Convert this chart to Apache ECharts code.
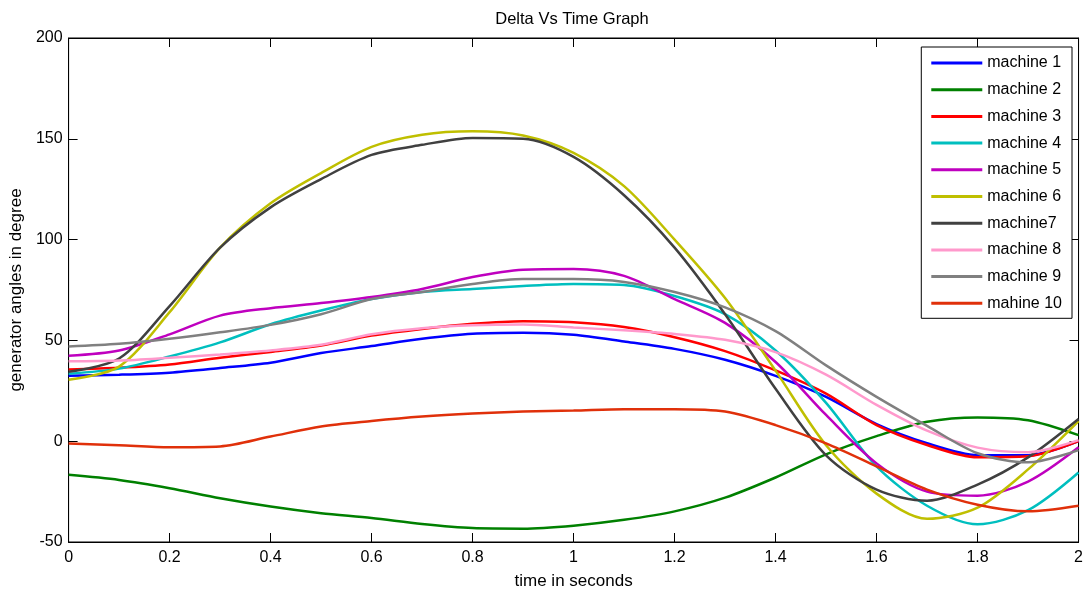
<!DOCTYPE html>
<html>
<head>
<meta charset="utf-8">
<script src="https://cdn.jsdelivr.net/npm/echarts@6/dist/echarts.min.js"></script>
<style>
html,body{margin:0;padding:0;background:#fff;}
#chart{width:1086px;height:595px;}
</style>
</head>
<body>
<div id="chart"></div>
<script>
var time = [0,0.1,0.2,0.3,0.4,0.5,0.6,0.7,0.8,0.9,1.0,1.1,1.2,1.3,1.4,1.5,1.6,1.7,1.8,1.9,2.0];
var names = ['machine 1','machine 2','machine 3','machine 4','machine 5','machine 6','machine7','machine 8','machine 9','mahine 10'];
var m1 = [32.5,33,34,36.3,38.9,43.7,47.2,50.8,53.3,53.8,52.8,49.5,45.8,40.4,32.4,22,8.5,-1,-6.9,-7,0];
var m2 = [-16.7,-19.2,-23.3,-28.3,-32.4,-35.7,-38.1,-41.1,-43.1,-43.4,-41.9,-39,-34.8,-28,-18,-6.5,2.5,9.6,11.8,10.4,3];
var m3 = [35.6,36.4,38,41.4,44.3,47.5,52.4,55.7,58.2,59.5,59,56.6,51.6,44.7,35.1,23.6,8,-1.9,-8,-7.5,0];
var m4 = [33.5,36,42,49,58,64.8,70.5,74,75.5,77,78,77.5,72,63,45,19,-12.5,-32,-41.2,-34.2,-15.5];
var m5 = [42.4,45,53,62.3,66,68.5,71.5,75.5,81.4,85,85.4,82,70.5,58.7,39.3,13,-11,-25,-27,-20,-3];
var m6 = [30.5,37,64,96,118,133,146,152,153.7,151.6,143,126.5,100,71,35,-2,-26,-38.5,-33,-14,10];
var m7 = [34.5,41,67,96,116,130,142,147,150.4,150,141,122,96,63,26,-7,-24,-29.5,-21.5,-8,11];
var m8 = [39.6,40,41.4,43,45,47.8,53,56,57.5,57.9,56.4,55,53.2,50.3,44.2,33,18,5.2,-3.2,-5.5,0.5];
var m9 = [47,48.3,50.8,54,57.7,63,70.5,74,78,80.4,80.4,79,74,66.4,54.6,37.6,22,7.6,-6,-10.5,-4.4];
var m10 = [-1.1,-2,-3,-2.6,2.3,7.3,10,12.2,13.7,14.7,15.2,15.9,15.9,14.7,8,-1.1,-12.5,-24,-31.5,-34.8,-32];
var allSeries = [m1,m2,m3,m4,m5,m6,m7,m8,m9,m10];
var colors = ['#0000ff','#008000','#ff0000','#00bfbf','#bf00bf','#bfbf00','#404040','#ff99cc','#808080','#e0300a'];

var font = 'Liberation Sans, Arial, sans-serif';
var series = allSeries.map(function(arr, k){
  return {
    name: names[k], type: 'line', showSymbol: false, smooth: 0.3,
    data: arr.map(function(v,i){ return [time[i], v]; }),
    lineStyle: {width: 2.5, color: colors[k]}, itemStyle: {color: colors[k]},
    emphasis: {disabled: true}, animation: false
  };
});
function xAx(pos, labels){
  return {type:'value', position:pos, min:0, max:2, interval:0.2, gridIndex:0,
    axisLine:{show:true, onZero:false, lineStyle:{color:'#000', width:1}},
    axisTick:{show:true, inside:true, length:9, lineStyle:{color:'#000'}},
    axisLabel:{show:labels, color:'#000', fontSize:16, fontFamily:font, margin:8},
    splitLine:{show:false},
    name: labels ? 'time in seconds' : '', nameLocation:'middle', nameGap:31,
    nameTextStyle:{color:'#000', fontSize:17, fontFamily:font}};
}
function yAx(pos, labels){
  return {type:'value', position:pos, min:-50, max:200, interval:50, gridIndex:0,
    axisLine:{show:true, onZero:false, lineStyle:{color:'#000', width:1}},
    axisTick:{show:true, inside:true, length:9, lineStyle:{color:'#000'}},
    axisLabel:{show:labels, color:'#000', fontSize:16, fontFamily:font, margin:6},
    splitLine:{show:false},
    name: labels ? 'generator angles in degree' : '', nameLocation:'middle', nameGap:35,
    nameTextStyle:{color:'#000', fontSize:17, fontFamily:font}};
}
var chart = echarts.init(document.getElementById('chart'), null, {renderer:'canvas'});
chart.setOption({
  backgroundColor:'#fff',
  animation:false,
  title:{text:'Delta Vs Time Graph', left:567, top:6, textAlign:'center',
    textStyle:{color:'#000', fontSize:16.5, fontWeight:'normal', fontFamily:font}},
  grid:{left:68, right:6, top:38, bottom:51, show:true, borderColor:'#000', borderWidth:1},
  legend:{orient:'vertical', right:14, top:47, backgroundColor:'#fff', borderColor:'#000', borderWidth:1,
    padding:[8,10,7,10], icon:'rect', itemWidth:51, itemHeight:3, itemGap:10.7,
    textStyle:{color:'#000', fontSize:16, fontFamily:font, lineHeight:16}, data:names},
  xAxis:[xAx('bottom', true), xAx('top', false)],
  yAxis:[yAx('left', true), yAx('right', false)],
  series: series
});
</script>
</body>
</html>
